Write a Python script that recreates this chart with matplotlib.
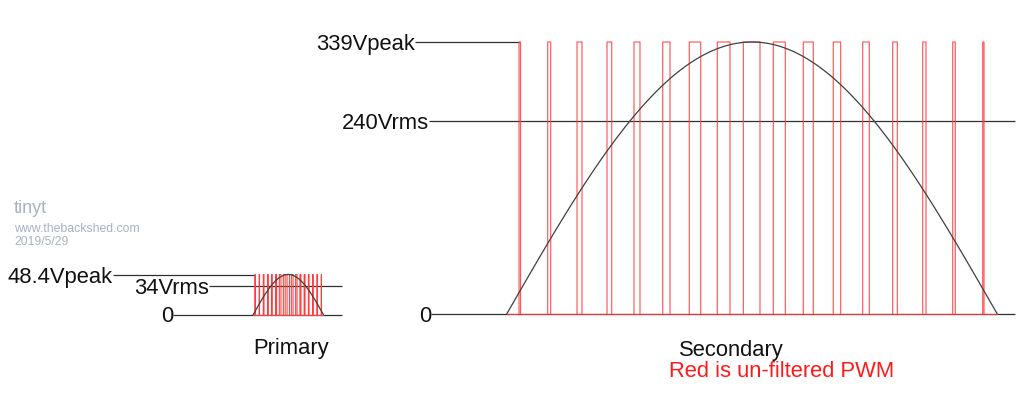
import numpy as np
import matplotlib
matplotlib.use('Agg')
import matplotlib.pyplot as plt

plt.rcParams['font.family'] = ['Liberation Sans', 'DejaVu Sans']
plt.rcParams['path.simplify'] = False

# ---------------- data ----------------
half_cycle_ms = 10.0
sec_peak = 339
sec_rms = 240
pri_peak = 48.4
pri_rms = 34
sec_labels = ['339Vpeak', '240Vrms', '0']
pri_labels = ['48.4Vpeak', '34Vrms', '0']
# PWM pulse edges (ms within the half cycle)
pulse_start_ms = [0.245, 0.831, 1.429, 2.041, 2.592, 3.178, 3.720, 4.292, 4.823,
                  5.435, 6.047, 6.659, 7.259, 7.871, 8.484, 9.096, 9.708]
pulse_end_ms = [0.276, 0.892, 1.531, 2.137, 2.714, 3.327, 3.953, 4.551, 5.163,
                5.680, 6.251, 6.810, 7.394, 7.966, 8.551, 9.149, 9.735]

# ---------------- layout ----------------
W, H, DPI = 1024, 397, 100
fig = plt.figure(figsize=(W / DPI, H / DPI), dpi=DPI)

LINE_C = '#303030'
SINE_C = '#404040'
PWM_C = '#ff3b3b'
FS = 15.8


def panel(x0_px, px_per_ms, zero_px_top, px_per_volt):
    ax = fig.add_axes([0, 0, 1, 1])
    ax.set_xlim(-x0_px / px_per_ms, (W - x0_px) / px_per_ms)
    yb = H - zero_px_top
    ax.set_ylim(-yb / px_per_volt, (H - yb) / px_per_volt)
    ax.axis('off')
    ax.patch.set_alpha(0)
    return ax


def draw(ax, peak, rms, labels, left_ext, right_ext, pwm_lw, pwm_alpha):
    # reference lines
    levels = [peak, rms, 0]
    rights = [pulse_start_ms[0], right_ext, right_ext]
    for lev, lab, xl, xr in zip(levels, labels, left_ext, rights):
        ax.plot([xl, xr], [lev, lev], color=LINE_C, lw=0.9, solid_capstyle='butt')
        ax.annotate(lab, xy=(xl, lev), xytext=(0, -8 * 0.72), textcoords='offset points',
                    ha='right', va='baseline', fontsize=FS, color='#111111')
    # PWM waveform: one outline per pulse plus the low level
    ax.plot([0, half_cycle_ms], [0, 0], color=PWM_C, lw=pwm_lw, alpha=pwm_alpha)
    for s, e in zip(pulse_start_ms, pulse_end_ms):
        ax.plot([s, s, e, e], [0, peak, peak, 0], color=PWM_C, lw=pwm_lw,
                alpha=pwm_alpha, snap=False)
    # sine (peak value given in the chart)
    t = np.linspace(0, half_cycle_ms, 400)
    ax.plot(t, peak * np.sin(np.pi * t / half_cycle_ms), color=SINE_C, lw=0.9)


# secondary panel
ax2 = panel(x0_px=507, px_per_ms=49.0, zero_px_top=313.5, px_per_volt=271.5 / 339)
draw(ax2, sec_peak, sec_rms, sec_labels,
     left_ext=[-1.878, -1.592, -1.551], right_ext=10.367, pwm_lw=0.85, pwm_alpha=0.85)

# primary panel
ax1 = panel(x0_px=253.3, px_per_ms=7.0, zero_px_top=314.5, px_per_volt=40.0 / 48.4)
draw(ax1, pri_peak, pri_rms, pri_labels,
     left_ext=[-20.04, -6.33, -11.47], right_ext=12.67, pwm_lw=0.75, pwm_alpha=1.0)

# captions
fig.text(291.5 / W, 1 - 354 / H, 'Primary', ha='center', va='baseline',
         fontsize=FS, color='#111111')
fig.text(731 / W, 1 - 356 / H, 'Secondary', ha='center', va='baseline',
         fontsize=FS, color='#111111')
fig.text(782 / W, 1 - 377 / H, 'Red is un-filtered PWM', ha='center', va='baseline',
         fontsize=FS, color='#ff1a1a')

# watermark
WM = '#a9b1c1'
fig.text(14 / W, 1 - 213 / H, 'tinyt', ha='left', va='baseline', fontsize=13, color=WM)
fig.text(14 / W, 1 - 232 / H, 'www.thebackshed.com', ha='left', va='baseline',
         fontsize=8.8, color=WM)
fig.text(14 / W, 1 - 245 / H, '2019/5/29', ha='left', va='baseline',
         fontsize=8.8, color=WM)

fig.savefig('out.png', dpi=DPI, facecolor='white')
